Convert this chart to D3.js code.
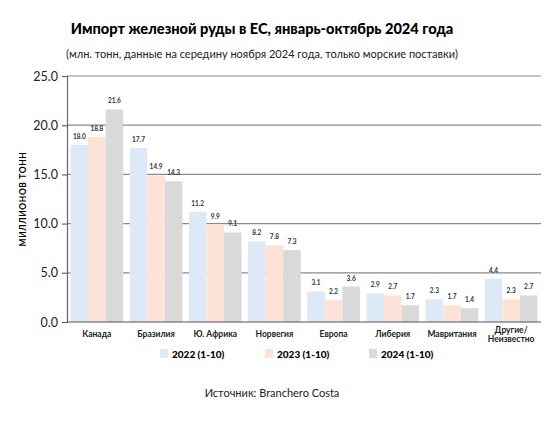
<!DOCTYPE html>
<html>
<head>
<meta charset="utf-8">
<script src="https://cdn.jsdelivr.net/npm/d3@7"></script>
<style>
  body { margin: 0; background: #fff; }
  svg { display: block; font-family: "Lato", "DejaVu Sans", sans-serif; }
</style>
</head>
<body>
<svg id="chart" width="560" height="425"></svg>
<script>
const CATEGORIES = ['Канада', 'Бразилия', 'Ю. Африка', 'Норвегия', 'Европа', 'Либерия', 'Мавритания', 'Другие/\nНеизвестно'];
const SERIES = ['2022 (1-10)', '2023 (1-10)', '2024 (1-10)'];
const VALUES_2022 = [18.0, 17.7, 11.2, 8.2, 3.1, 2.9, 2.3, 4.4];
const VALUES_2023 = [18.8, 14.9, 9.9, 7.8, 2.2, 2.7, 1.7, 2.3];
const VALUES_2024 = [21.6, 14.3, 9.1, 7.3, 3.6, 1.7, 1.4, 2.7];
const Y_TICKS = [0, 5, 10, 15, 20, 25];
const COLORS = ['#dde9f6', '#fde2d7', '#d9d9d9'];

const svg = d3.select('#chart');
const margin = { top: 76, right: 19, bottom: 103, left: 67 };
const W = 560, H = 425;

const rows = CATEGORIES.map((c, i) => ({
  cat: c,
  vals: [VALUES_2022[i], VALUES_2023[i], VALUES_2024[i]]
}));

const x = d3.scaleBand()
  .domain(CATEGORIES)
  .range([margin.left, W - margin.right])
  .paddingInner(0.11)
  .paddingOuter(0.06);

const xs = d3.scaleBand()
  .domain(SERIES)
  .range([0, x.bandwidth()]);

const y = d3.scaleLinear()
  .domain([0, 25])
  .range([H - margin.bottom, margin.top]);

// title
svg.append('text')
  .attr('x', 262).attr('y', 34)
  .attr('text-anchor', 'middle')
  .style('font-size', '14.6px').style('font-weight', 900)
  .text('Импорт железной руды в ЕС, январь-октябрь 2024 года');

svg.append('text')
  .attr('x', 262).attr('y', 58)
  .attr('text-anchor', 'middle')
  .style('font-size', '11px').style('fill', '#222')
  .text('(млн. тонн, данные на середину ноября 2024 года, только морские поставки)');

// grid lines
svg.append('g')
  .selectAll('line')
  .data(Y_TICKS.filter(d => d > 0))
  .enter().append('line')
    .attr('x1', margin.left).attr('x2', W - margin.right)
    .attr('y1', d => y(d)).attr('y2', d => y(d))
    .attr('stroke', '#8a8a8a').attr('stroke-width', 1.2);

// bars
const groups = svg.append('g')
  .selectAll('g')
  .data(rows)
  .enter().append('g')
    .attr('transform', d => `translate(${x(d.cat)},0)`);

groups.selectAll('rect')
  .data(d => d.vals.map((v, i) => ({ v: v, s: SERIES[i], i: i })))
  .enter().append('rect')
    .attr('x', d => xs(d.s))
    .attr('width', xs.bandwidth())
    .attr('y', d => y(d.v))
    .attr('height', d => y(0) - y(d.v))
    .attr('fill', d => COLORS[d.i]);

groups.selectAll('text')
  .data(d => d.vals.map((v, i) => ({ v: v, s: SERIES[i] })))
  .enter().append('text')
    .attr('x', d => xs(d.s) + xs.bandwidth() / 2)
    .attr('y', d => y(d.v) - 6)
    .attr('text-anchor', 'middle')
    .style('font-size', '6.5px').style('font-weight', 700).style('fill', '#333')
    .text(d => d.v.toFixed(1));

// y axis
const yAxis = svg.append('g')
  .attr('transform', `translate(${margin.left},0)`)
  .call(d3.axisLeft(y).tickValues(Y_TICKS).tickFormat(d3.format('.1f')).tickSize(5).tickPadding(4));
yAxis.select('.domain').attr('stroke', '#666').attr('stroke-width', 1.2);
yAxis.selectAll('.tick line').attr('stroke', '#666').attr('stroke-width', 1.2);
yAxis.selectAll('.tick text')
  .style('font-size', '12.5px').style('fill', '#222')
  .style('font-family', '"Lato", sans-serif');

// baseline
svg.append('line')
  .attr('x1', margin.left).attr('x2', W - margin.right)
  .attr('y1', y(0)).attr('y2', y(0))
  .attr('stroke', '#555').attr('stroke-width', 1.2);

// y axis title
svg.append('text')
  .attr('transform', `translate(26,${(y(0) + y(25)) / 2}) rotate(-90)`)
  .attr('text-anchor', 'middle')
  .style('font-size', '8.5px').style('font-weight', 700).style('letter-spacing', '0.6px')
  .text('МИЛЛИОНОВ ТОНН');

// x labels
const xl = svg.append('g')
  .selectAll('text')
  .data(CATEGORIES)
  .enter().append('text')
    .attr('x', d => x(d) + x.bandwidth() / 2)
    .attr('y', d => d.includes('\n') ? y(0) + 11 : y(0) + 15)
    .attr('text-anchor', 'middle')
    .style('font-size', '8.5px').style('font-weight', 700).style('fill', '#222');
xl.selectAll('tspan')
  .data(d => d.split('\n'))
  .enter().append('tspan')
    .attr('x', function() { return this.parentNode.getAttribute('x'); })
    .attr('dy', (d, i) => i === 0 ? 0 : 9)
    .text(d => d);

// legend
const legendX = [160, 265, 369];
const legend = svg.append('g')
  .selectAll('g')
  .data(SERIES)
  .enter().append('g')
    .attr('transform', (d, i) => `translate(${legendX[i]},349)`);
legend.append('rect')
  .attr('width', 8).attr('height', 9)
  .attr('fill', (d, i) => COLORS[i]);
legend.append('text')
  .attr('x', 12).attr('y', 8.5)
  .style('font-size', '10px').style('font-weight', 900)
  .text(d => d);

// source
svg.append('text')
  .attr('x', 272).attr('y', 397)
  .attr('text-anchor', 'middle')
  .style('font-size', '11px').style('fill', '#222')
  .text('Источник: Branchero Costa');
</script>
</body>
</html>
